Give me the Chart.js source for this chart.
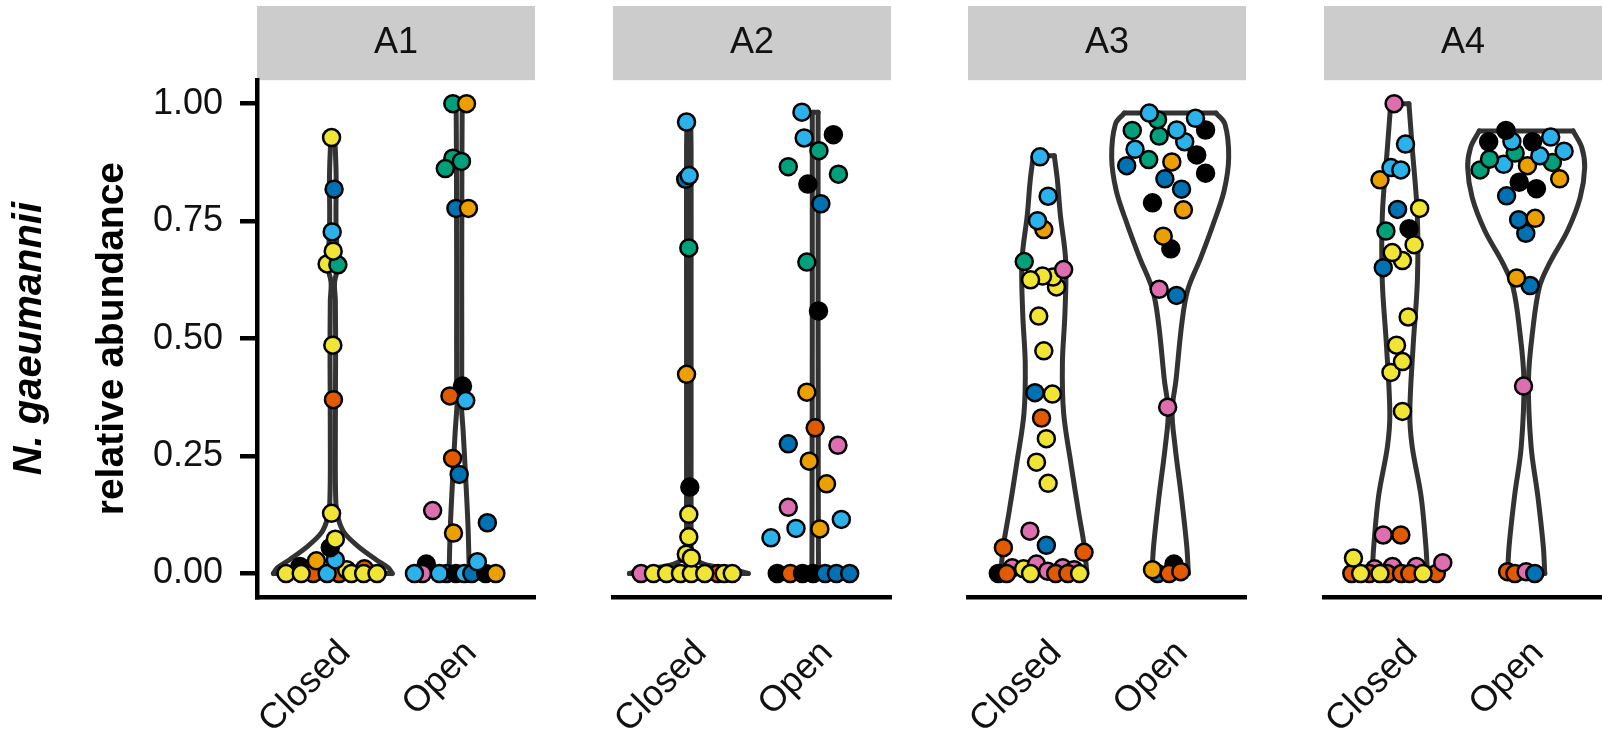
<!DOCTYPE html>
<html>
<head>
<meta charset="utf-8">
<script src="https://cdn.jsdelivr.net/npm/chart.js@4.4.1/dist/chart.umd.min.js"></script>
<style>
  html, body { margin: 0; padding: 0; background: #fff; overflow: hidden; }
  #wrap { position: relative; width: 1602px; height: 736px; overflow: hidden; }
  #wrap canvas { position: absolute; top: 0; }
</style>
</head>
<body>
<div id="wrap"></div>
<script>
const facets = ['A1', 'A2', 'A3', 'A4'];
const conditions = ['Closed', 'Open'];
const yTicks = [0, 0.25, 0.5, 0.75, 1];

// colour-blind palette as it shows in the picture, one letter per sample group
const groupColors = {
  K: '#000000', O: '#EBA000', S: '#2BB2EA', G: '#00A07A',
  Y: '#F0E535', B: '#0072B4', V: '#E25A00', P: '#DD6FB0'
};

// points: relative abundance, horizontal jitter (category units), group letter
const a1ClosedY = [0.015,0.01,0,0,0.008,0.027,0,0,0,0,0,0,0.029,0.055,0.073,0.128,0.37,0.486,0.659,0.657,0.686,0.727,0.818,0.928];
const a1ClosedJitter = [-0.26,0.25,-0.155,0.05,0.11,-0.13,-0.37,-0.25,-0.045,0.147,0.244,0.35,0.02,-0.02,0.02,-0.01,0.005,0,-0.045,0.04,0.003,-0.005,0.01,-0.01];
const a1ClosedGroup = 'KVVVYOYYSYYYSKYYVYYGYSBY';

const a1OpenY = [0.02,0,0,0,0,0,0,0,0,0,0.025,0.086,0.108,0.134,0.211,0.245,0.399,0.378,0.368,0.777,0.777,0.884,0.862,0.877,1,1];
const a1OpenJitter = [-0.26,-0.29,-0.354,-0.1,-0.157,-0.026,0.04,0.1,0.21,0.29,0.144,-0.045,0.223,-0.21,0,-0.052,0.026,-0.073,0.052,-0.026,0.073,-0.05,-0.11,0.018,-0.05,0.058];
const a1OpenGroup = 'KPSBSKSBKOSOBPBVKVSBOGGGGO';

const a2ClosedY = [0,0,0,0,0,0,0,0,0,0.041,0.033,0.078,0.126,0.184,0.424,0.693,0.839,0.847,0.961];
const a2ClosedJitter = [0.23,-0.378,-0.28,-0.176,-0.066,0.02,0.126,0.28,0.344,-0.02,0.02,0,0,0.008,-0.018,0,-0.025,0.003,-0.018];
const a2ClosedGroup = 'VPYYYYYYYYYYYKOGBSS';

const a2OpenY = [0,0,0,0,0,0,0,0.076,0.095,0.096,0.115,0.141,0.191,0.239,0.273,0.276,0.31,0.386,0.559,0.663,0.787,0.829,0.85,0.866,0.9,0.927,0.934,0.982];
const a2OpenJitter = [-0.3,-0.197,-0.1,-0.016,0.079,0.168,0.273,-0.35,0.037,-0.152,0.207,-0.213,0.09,-0.047,0.18,-0.213,0,-0.066,0.026,-0.066,0.045,-0.058,0.184,-0.213,0.03,-0.087,0.144,-0.105];
const a2OpenGroup = 'KVKKBBBSOSSPOOPBVOKGBKGGGSKS';

const a3ClosedY = [0.012,0.01,0.02,0.005,0.012,0.008,0,0,0,0,0,0,0.045,0.055,0.06,0.09,0.192,0.237,0.287,0.331,0.382,0.385,0.474,0.548,0.61,0.631,0.633,0.625,0.647,0.664,0.732,0.751,0.803,0.887];
const a3ClosedJitter = [-0.25,-0.16,-0.058,0.03,0.15,0.24,-0.36,-0.294,-0.105,0.094,0.19,0.283,0.318,-0.32,0.02,-0.11,0.034,-0.058,0.02,-0.018,0.068,-0.07,0,-0.04,0.1,0.073,-0.01,-0.105,0.157,-0.155,0,-0.05,0.034,-0.03];
const a3ClosedGroup = 'PYPPPPKVYVVYVVBPYYYVYBYYYYYYPGOSSS';

const a3OpenY = [0,0.02,0.008,0,0.004,0.354,0.592,0.605,0.691,0.718,0.774,0.789,0.818,0.84,0.852,0.868,0.876,0.881,0.891,0.903,0.919,0.931,0.944,0.944,0.943,0.966,0.969,0.98];
const a3OpenJitter = [-0.1,0.03,-0.14,-0.008,0.084,-0.02,0.05,-0.087,0.005,-0.055,0.105,-0.14,0.09,-0.042,0.28,-0.344,0.013,-0.17,0.21,-0.278,0.115,-0.087,0.052,0.28,-0.3,-0.1,0.2,-0.165];
const a3OpenGroup = 'BKOVVPBPKOOKBBKBOGKSSGSKGGSS';

const a4ClosedY = [0.01,0.015,0.015,0,0,0,0,0,0,0,0,0,0.023,0.033,0.082,0.082,0.345,0.428,0.451,0.486,0.546,0.651,0.666,0.683,0.7,0.729,0.734,0.775,0.777,0.838,0.864,0.859,0.914,1];
const a4ClosedJitter = [-0.2,-0.058,0.131,-0.38,-0.24,-0.1,0.013,0.079,0.289,-0.31,-0.157,0.184,0.34,-0.367,-0.131,0.008,0.021,-0.07,0.021,-0.026,0.066,-0.131,0.021,-0.06,0.113,-0.11,0.073,-0.018,0.157,-0.157,-0.07,0.008,0.045,-0.045];
const a4ClosedGroup = 'PPPVVVVVVYYYPYPVYYYYYBYYYGKBYOSSSP';

const a4OpenY = [0.004,0,0.004,0,0.399,0.613,0.629,0.724,0.753,0.756,0.804,0.819,0.833,0.84,0.859,0.868,0.871,0.875,0.882,0.889,0.895,0.899,0.919,0.919,0.92,0.929,0.943];
const a4OpenJitter = [-0.147,-0.089,0,0.068,-0.021,0.031,-0.076,-0.003,-0.06,0.071,-0.155,0.081,-0.055,0.265,-0.365,0.01,-0.178,0.207,-0.29,0.108,-0.087,0.3,-0.297,0.05,-0.113,0.194,-0.16];
const a4OpenGroup = 'VVPBPBOBBOBKKOGOSGGSGSKKSSK';

// violin outlines: level and half width (category units)
const a1ClosedViolinY = [0,0.012,0.03,0.059,0.087,0.115,0.15,0.3,0.45,0.58,0.62,0.655,0.69,0.75,0.85,0.928];
const a1ClosedViolinW = [0.47,0.44,0.34,0.195,0.09,0.045,0.024,0.02,0.022,0.02,0.014,0.042,0.033,0.025,0.026,0.016];
const a1OpenViolinY = [0,0.1,0.2,0.3,0.37,0.4,0.6,0.8,0.9,1];
const a1OpenViolinW = [0.08,0.07,0.052,0.032,0.015,0.02,0.02,0.021,0.022,0.024];
const a2ClosedViolinY = [0,0.008,0.02,0.035,0.05,0.1,0.3,0.6,0.9,0.961];
const a2ClosedViolinW = [0.47,0.36,0.12,0.04,0.02,0.018,0.018,0.018,0.018,0.015];
const a2OpenViolinY = [0,0.1,0.3,0.5,0.7,0.9,0.982];
const a2OpenViolinW = [0.026,0.025,0.024,0.023,0.023,0.023,0.023];
const a3ClosedViolinY = [0,0.059,0.129,0.235,0.341,0.447,0.553,0.666,0.765,0.836,0.889];
const a3ClosedViolinW = [0.341,0.32,0.276,0.214,0.157,0.147,0.167,0.173,0.13,0.108,0.083];
const a3OpenViolinY = [0,0.059,0.165,0.27,0.345,0.412,0.532,0.603,0.673,0.744,0.815,0.886,0.957,0.98];
const a3OpenViolinW = [0.144,0.131,0.088,0.039,0.015,0.046,0.092,0.138,0.243,0.341,0.427,0.463,0.433,0.363];
const a4ClosedViolinY = [0,0.059,0.165,0.27,0.341,0.483,0.624,0.765,0.907,1];
const a4ClosedViolinW = [0.219,0.206,0.168,0.098,0.079,0.105,0.139,0.138,0.098,0.072];
const a4OpenViolinY = [0,0.059,0.165,0.27,0.412,0.518,0.61,0.66,0.73,0.8,0.864,0.907,0.942];
const a4OpenViolinW = [0.147,0.135,0.092,0.039,0.018,0.052,0.105,0.184,0.328,0.427,0.463,0.44,0.371];

const facetData = {
  A1: [[a1ClosedY, a1ClosedJitter, a1ClosedGroup, a1ClosedViolinY, a1ClosedViolinW],
       [a1OpenY, a1OpenJitter, a1OpenGroup, a1OpenViolinY, a1OpenViolinW]],
  A2: [[a2ClosedY, a2ClosedJitter, a2ClosedGroup, a2ClosedViolinY, a2ClosedViolinW],
       [a2OpenY, a2OpenJitter, a2OpenGroup, a2OpenViolinY, a2OpenViolinW]],
  A3: [[a3ClosedY, a3ClosedJitter, a3ClosedGroup, a3ClosedViolinY, a3ClosedViolinW],
       [a3OpenY, a3OpenJitter, a3OpenGroup, a3OpenViolinY, a3OpenViolinW]],
  A4: [[a4ClosedY, a4ClosedJitter, a4ClosedGroup, a4ClosedViolinY, a4ClosedViolinW],
       [a4OpenY, a4OpenJitter, a4OpenGroup, a4OpenViolinY, a4OpenViolinW]]
};

Chart.defaults.font.family = "'Liberation Sans', Arial, Helvetica, sans-serif";
Chart.defaults.color = '#111';

const FONT = 36;
const AXIS_W = 257;        // room left of each panel (y axis only drawn on the first)
const PANEL_W = 278;
const RIGHT_PAD = 20;
const panelLeft = [257, 613, 968, 1324];
const LINE = '#333333';

function violinSets(pos, vy, vw) {
  const n = vy.length - 1;
  const right = vy.map((y, i) => ({ x: pos + vw[i], y }));
  const left = vy.map((y, i) => ({ x: pos - vw[i], y }));
  const top = [{ x: pos - vw[n], y: vy[n] }, { x: pos + vw[n], y: vy[n] }];
  const bottom = [{ x: pos - vw[0], y: vy[0] }, { x: pos + vw[0], y: vy[0] }];
  return [[right, 0.35], [left, 0.35], [top, 0], [bottom, 0]].map(([d, t]) => ({
    data: d, showLine: true, tension: t, fill: false, clip: false,
    borderColor: LINE, borderWidth: 5, borderCapStyle: 'round', borderJoinStyle: 'round',
    pointRadius: 0, order: 2
  }));
}

const stripPlugin = {
  id: 'strip',
  beforeDraw(chart) {
    const { ctx, chartArea: a } = chart;
    ctx.save();
    ctx.fillStyle = '#cccccc';
    ctx.fillRect(a.left, 6, a.right - a.left, a.top - 6);
    ctx.restore();
  }
};

const speciesPlugin = {
  id: 'species',
  afterDraw(chart) {
    const { ctx, chartArea: a } = chart;
    ctx.save();
    ctx.translate(30, (a.top + a.bottom) / 2);
    ctx.rotate(-Math.PI / 2);
    ctx.font = "italic bold 40px 'Liberation Sans', Arial, sans-serif";
    ctx.fillStyle = '#000';
    ctx.textAlign = 'center';
    ctx.textBaseline = 'middle';
    ctx.fillText('N. gaeumannii', 0, 0);
    ctx.restore();
  }
};

const wrap = document.getElementById('wrap');

facets.forEach((facet, i) => {
  const first = i === 0;
  const canvas = document.createElement('canvas');
  canvas.width = AXIS_W + PANEL_W + RIGHT_PAD;
  canvas.height = 736;
  canvas.style.left = (panelLeft[i] - AXIS_W) + 'px';
  canvas.style.width = canvas.width + 'px';
  canvas.style.height = '736px';
  wrap.appendChild(canvas);

  const datasets = [];
  facetData[facet].forEach(([ys, jit, grp, vy, vw], c) => {
    const pos = c + 1;
    datasets.push({
      data: ys.map((v, k) => ({ x: pos + jit[k], y: v })),
      backgroundColor: grp.split('').map(g => groupColors[g]),
      borderColor: '#000', borderWidth: 2.5, pointRadius: 8.5,
      showLine: false, clip: false, order: 0
    });
    violinSets(pos, vy, vw).forEach(d => datasets.push(d));
  });

  new Chart(canvas, {
    type: 'scatter',
    data: { datasets },
    options: {
      responsive: false,
      animation: false,
      devicePixelRatio: 1,
      layout: { padding: { left: 0, right: RIGHT_PAD, top: 0, bottom: 0 } },
      plugins: {
        legend: { display: false },
        tooltip: { enabled: false },
        title: {
          display: true, text: facet, fullSize: false, color: '#111',
          font: { size: FONT, weight: 'normal' }, padding: { top: 21, bottom: 16 }
        }
      },
      scales: {
        x: {
          type: 'linear', min: 0.4, max: 2.6,
          afterBuildTicks: s => { s.ticks = conditions.map((_, k) => ({ value: k + 1 })); },
          afterFit: s => { s.height = 736 - 597; },
          ticks: {
            callback: v => conditions[v - 1], minRotation: 45, maxRotation: 45,
            autoSkip: false, padding: 35, labelOffset: 12, font: { size: FONT }, color: '#111'
          },
          grid: { display: false, drawTicks: false },
          border: { display: true, color: '#000', width: 4.5 }
        },
        y: {
          min: -0.05, max: 1.05,
          afterBuildTicks: s => { s.ticks = yTicks.map(v => ({ value: v })); },
          afterFit: s => { s.width = AXIS_W; },
          ticks: {
            display: first, callback: v => v.toFixed(2), padding: 17,
            font: { size: FONT }, color: '#111'
          },
          grid: { display: first, drawOnChartArea: false, drawTicks: true, tickLength: 17, lineWidth: 4.5, color: '#000' },
          border: { display: first, color: '#000', width: 4.5 },
          title: {
            display: first, text: 'relative abundance', color: '#000',
            font: { size: 39, weight: 'bold' }, padding: { top: 89, bottom: 0 }
          }
        }
      }
    },
    plugins: first ? [stripPlugin, speciesPlugin] : [stripPlugin]
  });
});
</script>
</body>
</html>
